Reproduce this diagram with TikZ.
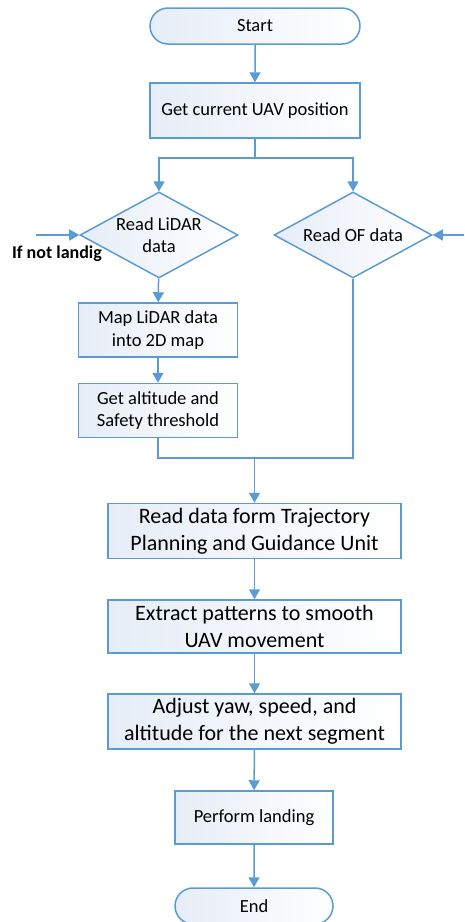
\documentclass[tikz,border=0pt]{standalone}
\usepackage{fontspec}
\setmainfont{Carlito}
\usepackage{xcolor}
\usetikzlibrary{shapes.geometric,shapes.misc,arrows.meta}

\definecolor{flowblue}{HTML}{5B9BD5}
\definecolor{boxshade}{HTML}{E6EDF7}

\tikzset{
    base/.style={draw=flowblue, line width=1.5pt, left color=boxshade, right color=white, align=center, inner sep=0pt},
    term/.style={base, rounded rectangle, minimum width=210, minimum height=36, font=\fontsize{18.5}{22.5}\selectfont},
    smallbox/.style={base, rectangle, minimum width=159, minimum height=54, font=\fontsize{18.5}{22.5}\selectfont},
    bigbox/.style={base, rectangle, minimum width=293, minimum height=55, font=\fontsize{22}{27}\selectfont},
    decide/.style={base, diamond, minimum width=158, minimum height=86, font=\fontsize{18.5}{22.5}\selectfont},
    line/.style={draw=flowblue, line width=1.5pt},
    arr/.style={line, -{Triangle[width=11pt,length=10pt]}}
}

\begin{document}
\begin{tikzpicture}[x=1pt, y=-1pt]
        \useasboundingbox (0,0) rectangle (464,922);

        % Start and position
        \node[term] (start) at (255,26) {Start};
        \node[smallbox, minimum width=210, minimum height=55] (uav) at (255,110.5) {Get current UAV position};

        % Two sensor branches
        \node[decide, label={[align=center, font=\fontsize{18.5}{22.5}\selectfont]center:Read LiDAR\\data}] (lidar) at (159,235) {};
        \node[decide, label={[font=\fontsize{18.5}{22.5}\selectfont]center:Read OF data}] (of) at (353,235) {};
        \coordinate (split) at (255,158);
        \coordinate (inL) at (36,235);
        \coordinate (inR) at (464,235);
        \node[font=\fontsize{18}{22}\selectfont\bfseries] (loop) at (57,254) {If not landig};

        % LiDAR processing
        \node[smallbox] (map) at (158,330) {Map LiDAR data\\into 2D map};
        \node[smallbox] (alt) at (158,410.5) {Get altitude and\\Safety threshold};
        \coordinate (merge) at (254.5,458);

        % Guidance steps
        \node[bigbox] (traj) at (254.5,531) {Read data form Trajectory\\Planning and Guidance Unit};
        \node[bigbox, minimum height=53] (extract) at (254.5,626.5) {Extract patterns to smooth\\UAV movement};
        \node[bigbox] (adjust) at (254.5,721.5) {Adjust yaw, speed, and\\altitude for the next segment};
        \node[smallbox, minimum width=158, minimum height=53] (land) at (254,817.5) {Perform landing};
        \node[term, minimum width=158] (stop) at (254,906) {End};

        % Connections
        \draw[arr] (start) -- (uav);
        \draw[line] (uav) -- (split);
        \draw[arr] (split) -| (lidar);
        \draw[arr] (split) -| (of);
        \draw[arr] (inL) -- (lidar);
        \draw[arr] (inR) -- (of);
        \draw[arr] (lidar) -- (map);
        \draw[arr] (map) -- (alt);
        \draw[line] (alt) |- (merge) -| (of);
        \draw[arr] (merge) -- (traj);
        \draw[arr] (traj) -- (extract);
        \draw[arr] (extract) -- (adjust);
        \draw[arr] (adjust) -- (land);
        \draw[arr] (land) -- (stop);
    \end{tikzpicture}
\end{document}
